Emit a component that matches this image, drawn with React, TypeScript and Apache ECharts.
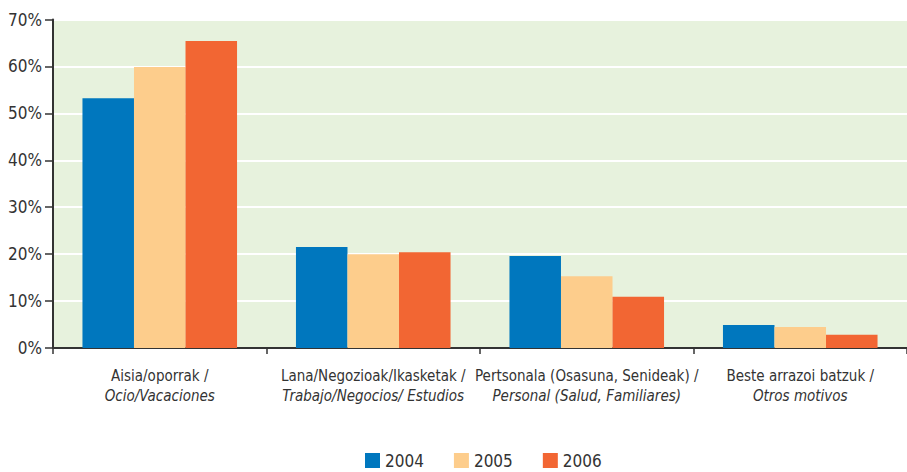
import React, { useEffect, useRef } from "react";
import * as echarts from "echarts";

const categoriesTop = [
  "Aisia/oporrak /",
  "Lana/Negozioak/Ikasketak /",
  "Pertsonala (Osasuna, Senideak) /",
  "Beste arrazoi batzuk /",
];
const categoriesBottom = [
  "Ocio/Vacaciones",
  "Trabajo/Negocios/ Estudios",
  "Personal (Salud, Familiares)",
  "Otros motivos",
];
const years = ["2004", "2005", "2006"];
const values2004 = [53.2, 21.5, 19.6, 4.9];
const values2005 = [59.9, 20.0, 15.3, 4.5];
const values2006 = [65.4, 20.4, 10.9, 2.8];
const colors = ["#0077BE", "#FDCD8C", "#F26633"];

const FONT = "'Liberation Sans Narrow', 'DejaVu Sans Condensed', sans-serif";

export default function App() {
  const ref = useRef<HTMLDivElement>(null);
  useEffect(() => {
    document.body.style.margin = "0";
    if (!ref.current) return;
    const chart = echarts.init(ref.current, undefined, { renderer: "svg" });
    const seriesData = [values2004, values2005, values2006];
    chart.setOption({
      animation: false,
      textStyle: { fontFamily: FONT },
      grid: { left: 53, top: 19.5, width: 862, bottom: 124, backgroundColor: "#E7F2DD", show: true, borderWidth: 0 },
      legend: {
        data: years,
        top: 447,
        left: 360,
        itemWidth: 15,
        itemHeight: 15,
        itemGap: 30,
        icon: "rect",
        textStyle: { fontFamily: FONT, fontSize: 17, color: "#333" },
      },
      xAxis: {
        type: "category",
        data: categoriesTop.map((c, i) => c + "\n" + categoriesBottom[i]),
        axisLine: { lineStyle: { color: "#333", width: 2 } },
        axisTick: { show: true, length: 6, lineStyle: { color: "#333", width: 1.5 } },
        axisLabel: {
          margin: 18,
          interval: 0,
          formatter: (v: string) => {
            const [a, b] = v.split("\n");
            return `{a|${a}}\n{b|${b}}`;
          },
          rich: {
            a: { fontFamily: FONT, fontSize: 15, color: "#333", lineHeight: 20 },
            b: { fontFamily: FONT, fontSize: 15, color: "#333", fontStyle: "italic", lineHeight: 20 },
          },
        },
      },
      yAxis: {
        type: "value",
        min: 0,
        max: 70,
        interval: 10,
        axisLine: { show: true, lineStyle: { color: "#333", width: 2 } },
        axisTick: { show: true, length: 8, lineStyle: { color: "#333", width: 1.5 } },
        splitLine: { lineStyle: { color: "#ffffff", width: 2 } },
        axisLabel: {
          formatter: "{value}%",
          fontFamily: FONT,
          fontSize: 17,
          color: "#333",
          margin: 11,
        },
      },
      series: years.map((y, i) => ({
        name: y,
        type: "bar",
        data: seriesData[i],
        barGap: "0%",
        barCategoryGap: "27.6%",
        itemStyle: { color: colors[i] },
      })),
    });
    return () => chart.dispose();
  }, []);
  return <div ref={ref} style={{ width: 907, height: 472 }} />;
}
